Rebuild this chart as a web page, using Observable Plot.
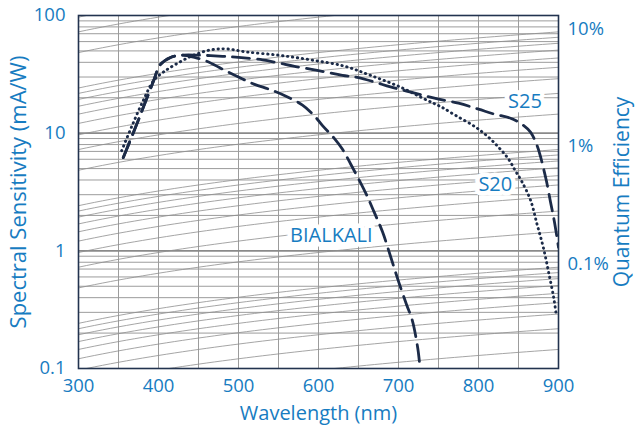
<!DOCTYPE html>
<html>
<head>
<meta charset="utf-8">
<script src="https://cdn.jsdelivr.net/npm/d3@7"></script>
<script src="https://cdn.jsdelivr.net/npm/@observablehq/plot@0.6"></script>
<style>
  html, body { margin: 0; padding: 0; background: #fff; }
</style>
</head>
<body>
<div id="chart"></div>
<script>
// ---- Data ----
const wavelengthTicks = [300, 400, 500, 600, 700, 800, 900];
const wavelengthGrid = [350, 400, 450, 500, 550, 600, 650, 700, 750, 800, 850];
const sensitivityTicks = [0.1, 1, 10, 100];
const sensitivityTickLabels = ["0.1", "1", "10", "100"];
const qeTickValues = [0.1, 0.01, 0.001];
const qeTickLabels = ["10%", "1%", "0.1%"];

const bialkaliNm   = [356, 375, 394, 402, 415, 430, 445, 460, 480, 500, 520, 540, 560, 580, 595, 605, 620, 630, 640, 650, 660, 670, 680, 690, 700, 710, 717, 724, 727];
const bialkaliSens = [6.2, 13, 28, 38, 44, 46, 44, 41, 35, 30, 26, 23.4, 20.5, 17.3, 14, 11.6, 9, 7.3, 5.5, 4.1, 3, 2.1, 1.45, 0.9, 0.55, 0.35, 0.26, 0.15, 0.1];

const s25Nm   = [356, 375, 394, 402, 415, 430, 450, 480, 500, 530, 550, 570, 600, 630, 650, 670, 690, 710, 730, 750, 775, 800, 820, 840, 855, 865, 873, 877, 881, 885, 890, 895, 900];
const s25Sens = [6.2, 13, 28, 38, 44, 46, 46, 45, 44, 42, 39.5, 37, 34, 31, 29.7, 27.2, 24.7, 22.8, 21, 19.5, 18, 16, 14.5, 13.4, 11.8, 10.2, 7.9, 6.5, 5.1, 3.9, 2.6, 1.75, 1.07];

const s20Nm   = [354, 367, 381, 394, 406, 423, 444, 465, 485, 510, 550, 590, 633, 665, 702, 736, 752, 771, 796, 812, 825, 837, 846, 854, 865, 873, 881, 888, 894, 897];
const s20Sens = [7.1, 11.6, 19, 28, 33, 39, 46, 51, 52, 49, 46, 42, 37, 31, 24.7, 19, 16.9, 14.2, 11.3, 9.3, 7.6, 6.1, 4.8, 3.9, 2.7, 1.7, 1.07, 0.64, 0.4, 0.29];

const labelTexts = ["S25", "S20", "BIALKALI"];
const labelNm    = [858, 821, 616];
const labelSens  = [18.7, 3.66, 1.35];

// Quantum-efficiency reference lines (grid): QE levels in fraction
const qeMantissas = [1, 2, 3, 4, 5, 6, 7, 8, 9];
const qeDecades = [0.0001, 0.001, 0.01, 0.1];

// ---- Build tables ----
const HC = 1.23984; // mA/W = QE * nm / 1.23984
const series = [
  {name: "BIALKALI", nm: bialkaliNm, s: bialkaliSens},
  {name: "S25", nm: s25Nm, s: s25Sens},
  {name: "S20", nm: s20Nm, s: s20Sens}
];
const table = name => {
  const sr = series.find(d => d.name === name);
  return sr.nm.map((x, i) => ({nm: x, s: sr.s[i]}));
};

const qeLevels = [];
for (const dec of qeDecades) for (const m of qeMantissas) {
  const q = m * dec;
  if (q <= 0.45) qeLevels.push(q);
}
const qeLinePts = [];
for (const q of qeLevels) for (let nm = 300; nm <= 900; nm += 10) qeLinePts.push({q, nm, s: q * nm / HC});

const yGridMinor = [];
for (const dec of [0.1, 1, 10]) for (const m of [2,3,4,5,6,7,8,9]) yGridMinor.push(m * dec);
const yGridMajor = [1, 10];

const qeRightTicks = qeTickValues.map((q, i) => ({s: q * 900 / HC, label: qeTickLabels[i]}));
const labels = labelTexts.map((t, i) => ({t, nm: labelNm[i], s: labelSens[i]}));

const blue = "#177cc1";
const ink = "#1c2b48";
const gridColor = "#9c9c9c";

const chart = Plot.plot({
  width: 643,
  height: 429,
  marginLeft: 78,
  marginRight: 85,
  marginTop: 15,
  marginBottom: 61,
  style: {fontFamily: "'Open Sans', sans-serif", fontSize: "18.5px", color: blue, background: "#fff"},
  x: {domain: [300, 900]},
  y: {type: "log", domain: [0.1, 100]},
  marks: [
    Plot.ruleX(wavelengthGrid, {stroke: gridColor, strokeWidth: 1}),
    Plot.ruleY(yGridMinor, {stroke: gridColor, strokeWidth: 1}),
    Plot.ruleY(yGridMajor, {stroke: "#8a8a8a", strokeWidth: 1.6}),
    Plot.line(qeLinePts, {x: "nm", y: "s", z: "q", stroke: "#8e8e8e", strokeWidth: 0.8, clip: true}),
    Plot.line(table("BIALKALI"), {x: "nm", y: "s", stroke: ink, strokeWidth: 2.8, strokeDasharray: "17,8", curve: "catmull-rom", clip: true}),
    Plot.line(table("S25"), {x: "nm", y: "s", stroke: ink, strokeWidth: 2.8, strokeDasharray: "17,8", curve: "catmull-rom", clip: true}),
    Plot.line(table("S20"), {x: "nm", y: "s", stroke: ink, strokeWidth: 2.9, strokeDasharray: "0.4,4.6", strokeLinecap: "round", curve: "catmull-rom", clip: true}),
    Plot.text(labels, {x: "nm", y: "s", text: "t", fill: blue, stroke: "white", strokeWidth: 9, fontSize: 20, lineAnchor: "middle"}),
    Plot.frame({stroke: "#22334f", strokeWidth: 1.6}),
    Plot.axisX({ticks: wavelengthTicks, tickSize: 0, tickPadding: 10, label: null, tickFormat: d => String(d)}),
    Plot.axisY({anchor: "left", ticks: sensitivityTicks, tickSize: 0, tickPadding: 13, label: null,
      tickFormat: d => sensitivityTickLabels[sensitivityTicks.indexOf(d)]}),
    Plot.text(qeRightTicks, {y: "s", text: "label", frameAnchor: "right", dx: 9, dy: -3, textAnchor: "start", lineAnchor: "middle", fill: blue, fontSize: 18.5}),
    Plot.text(["Wavelength (nm)"], {frameAnchor: "bottom", dy: 45, fontSize: 20, fill: blue, lineAnchor: "middle", textAnchor: "middle"}),
    Plot.text(["Spectral Sensitivity (mA/W)"], {frameAnchor: "left", dx: -60, rotate: -90, fontSize: 22, fill: blue, lineAnchor: "middle", textAnchor: "middle"}),
    Plot.text(["Quantum Efficiency"], {frameAnchor: "right", dx: 64, rotate: -90, fontSize: 21, fill: blue, lineAnchor: "middle", textAnchor: "middle"})
  ]
});
document.getElementById("chart").append(chart);
</script>
</body>
</html>
